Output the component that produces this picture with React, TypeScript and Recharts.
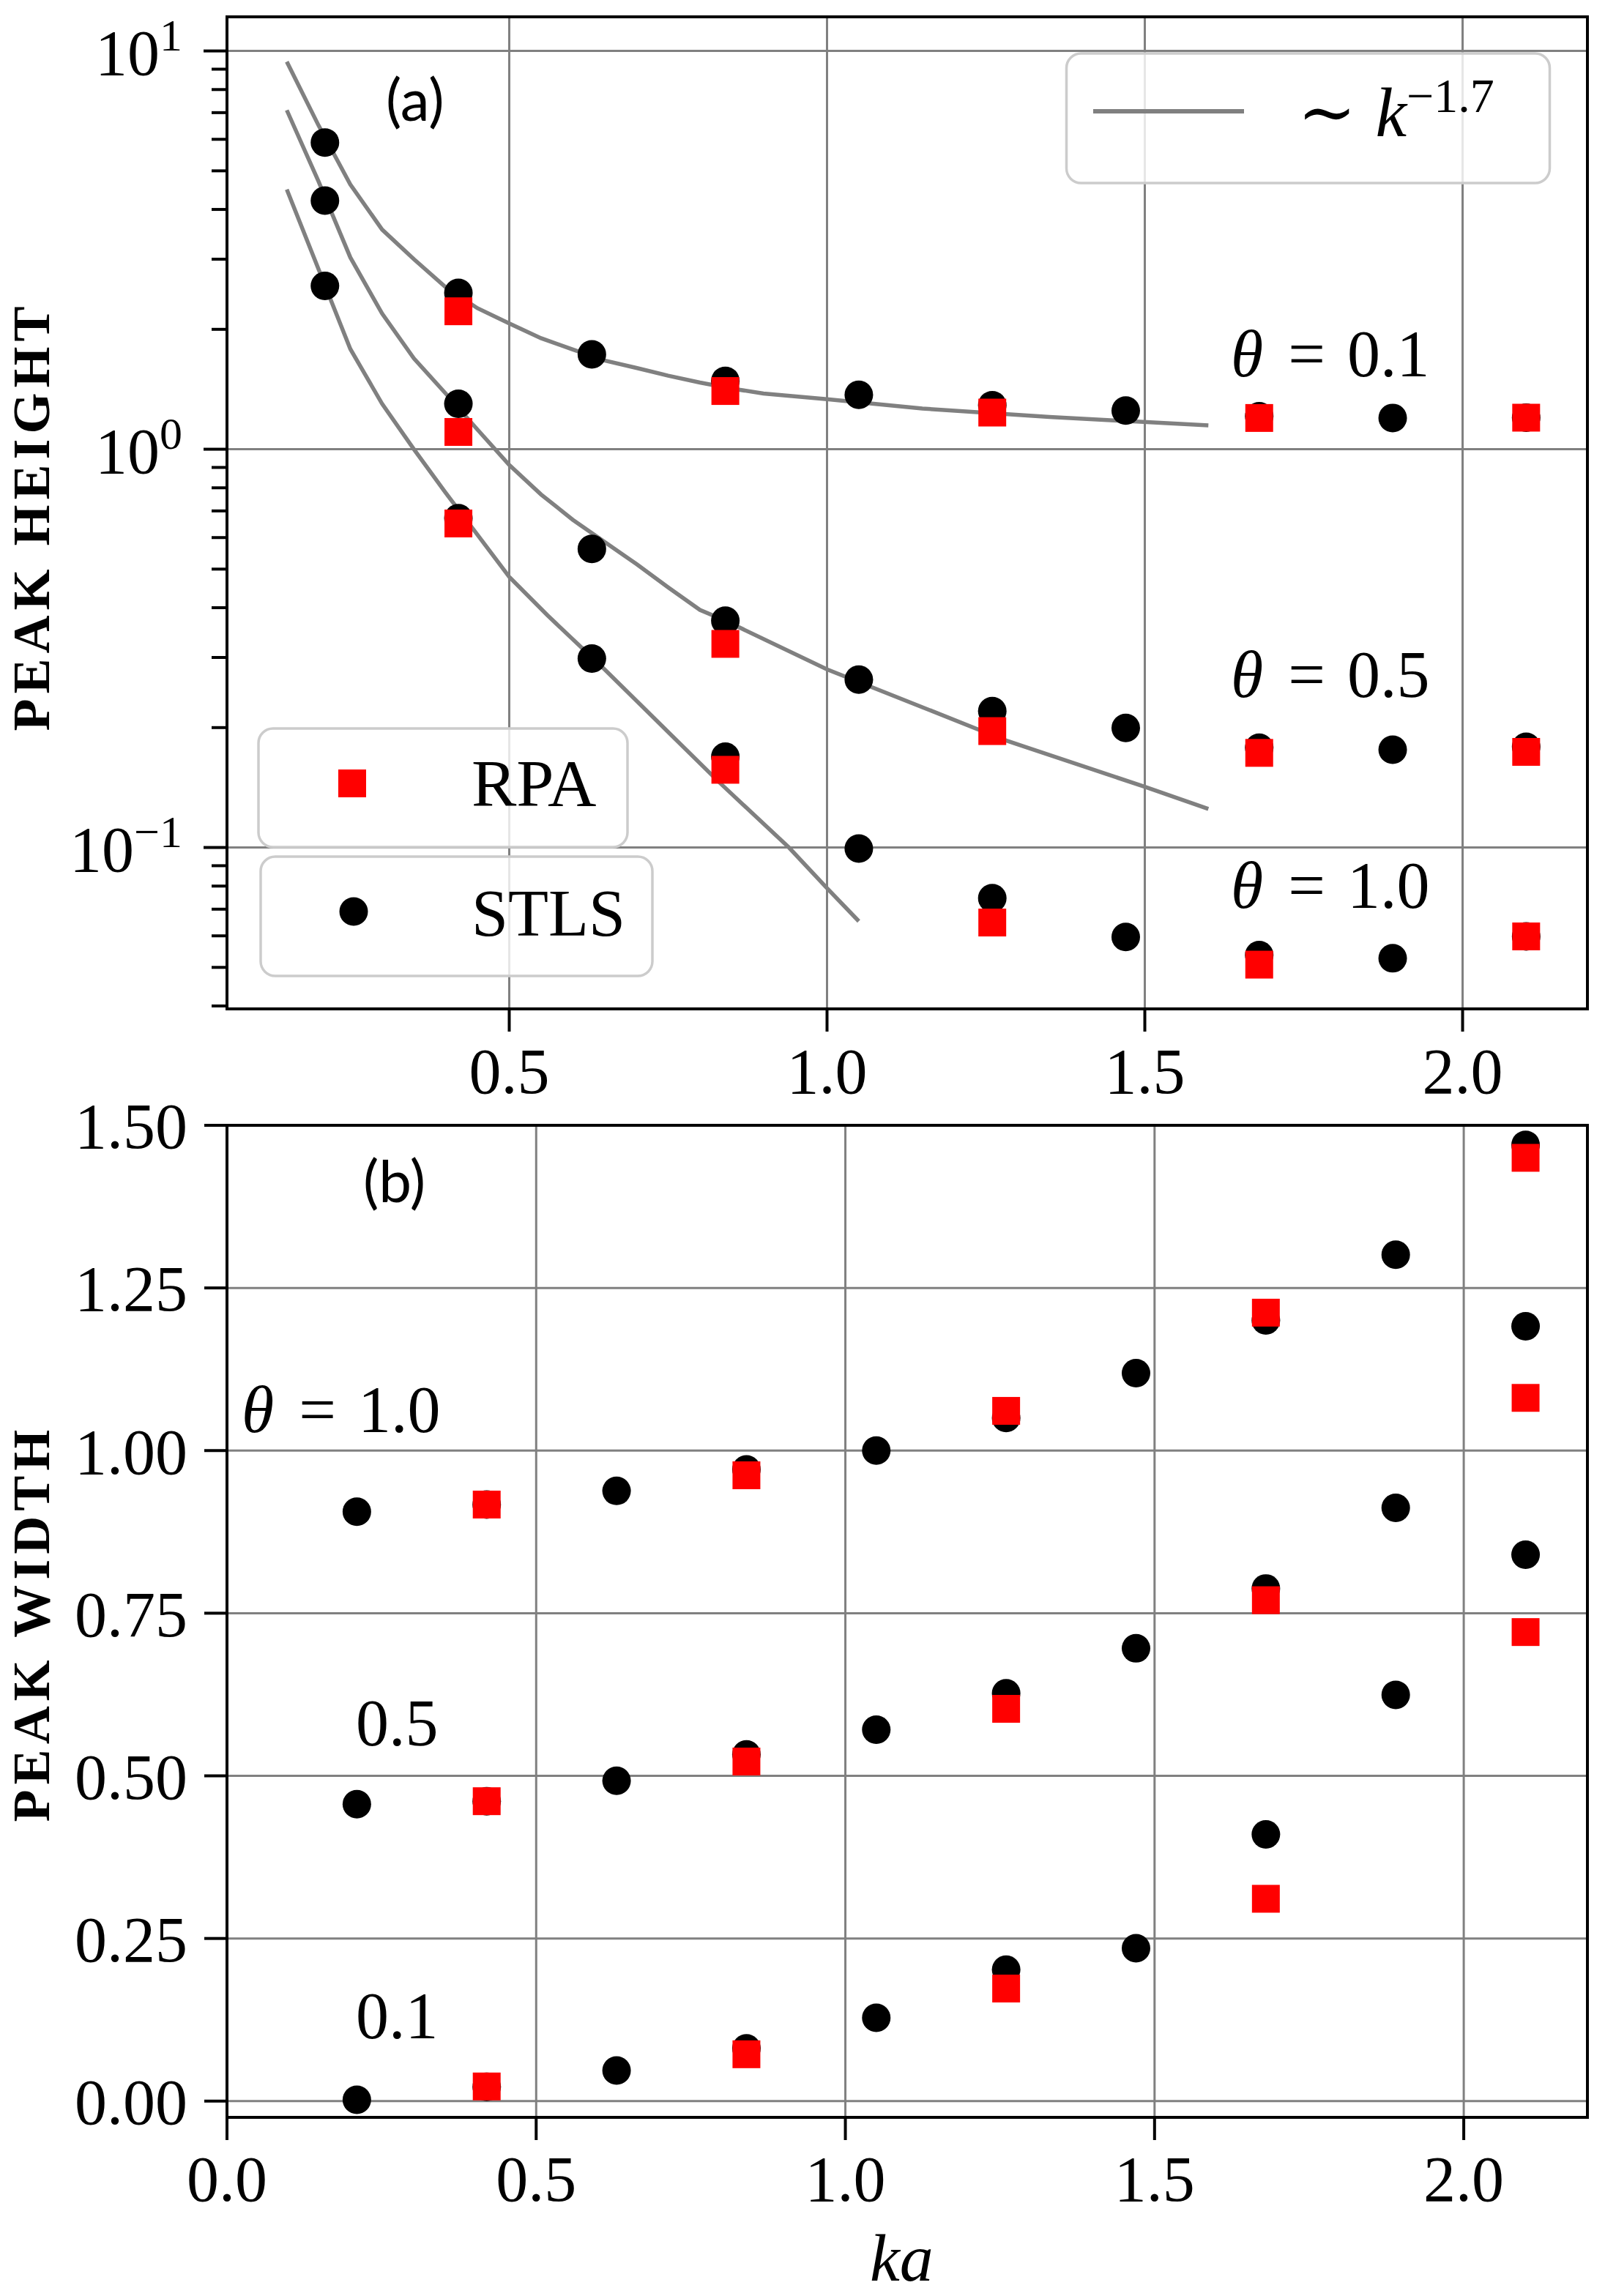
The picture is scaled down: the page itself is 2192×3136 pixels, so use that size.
import React from 'react';
import { ComposedChart, Scatter, Line, XAxis, YAxis, CartesianGrid, ReferenceArea } from 'recharts';

const SERIF = 'Liberation Serif, DejaVu Serif, serif';
const SANS = 'Lato, Open Sans, sans-serif';

// ---- data ----
const kaAll = [0.21, 0.42, 0.63, 0.84, 1.05, 1.26, 1.47, 1.68, 1.89, 2.1];
const kaRpa = [0.42, 0.84, 1.26, 1.68, 2.1];

// Panel (a): peak height
const heightStls01 = [5.89, 2.47, 1.73, 1.485, 1.37, 1.29, 1.25, 1.21, 1.198, 1.2];
const heightRpa01 = [2.22, 1.4, 1.236, 1.198, 1.2];
const heightStls05 = [4.21, 1.3, 0.562, 0.371, 0.264, 0.22, 0.1996, 0.178, 0.176, 0.179];
const heightRpa05 = [1.105, 0.3245, 0.196, 0.1728, 0.1738];
const heightStls10 = [2.57, 0.671, 0.298, 0.169, 0.0994, 0.0746, 0.0596, 0.0537, 0.0527, 0.0598];
const heightRpa10 = [0.651, 0.1567, 0.0648, 0.0508, 0.0598];

// ~k^-1.7 guide curves
const fitKa01 = [0.15, 0.2, 0.25, 0.3, 0.35, 0.4, 0.45, 0.5, 0.55, 0.6, 0.65, 0.7, 0.75, 0.8, 0.85, 0.9, 1.0, 1.15, 1.35, 1.6];
const fitH01 = [9.4, 6.5, 4.62, 3.56, 3.0, 2.55, 2.26, 2.07, 1.9, 1.78, 1.67, 1.6, 1.53, 1.47, 1.42, 1.38, 1.335, 1.265, 1.205, 1.148];
const fitKa05 = [0.15, 0.2, 0.25, 0.3, 0.35, 0.4, 0.45, 0.5, 0.55, 0.6, 0.7, 0.75, 0.8, 0.84, 1.0, 1.15, 1.28, 1.5, 1.6];
const fitH05 = [7.1, 4.7, 3.03, 2.19, 1.69, 1.38, 1.12, 0.913, 0.77, 0.665, 0.515, 0.45, 0.395, 0.371, 0.28, 0.225, 0.186, 0.142, 0.125];
const fitKa10 = [0.15, 0.2, 0.25, 0.3, 0.35, 0.4, 0.45, 0.5, 0.56, 0.65, 0.83, 0.94, 1.0, 1.05];
const fitH10 = [4.49, 2.83, 1.785, 1.3, 1.0, 0.777, 0.61, 0.478, 0.383, 0.28, 0.146, 0.1, 0.079, 0.0653];

// Panel (b): peak width
const widthStls10 = [0.906, 0.917, 0.938, 0.971, 1.0, 1.05, 1.119, 1.2, 1.301, 1.47];
const widthRpa10 = [0.917, 0.962, 1.061, 1.212, 1.45];
const widthStls05 = [0.4565, 0.461, 0.4925, 0.533, 0.571, 0.627, 0.696, 0.788, 0.912, 1.191];
const widthRpa05 = [0.461, 0.522, 0.603, 0.77, 1.081];
const widthStls01 = [0.002, 0.022, 0.047, 0.081, 0.128, 0.202, 0.235, 0.41, 0.6245, 0.84];
const widthRpa01 = [0.0225, 0.072, 0.173, 0.311, 0.721];

// ticks
const xTicksA = [0.5, 1, 1.5, 2];
const yMajorA = [0.1, 1, 10];
const yMinorA = [0.04, 0.05, 0.06, 0.07, 0.08, 0.09, 0.2, 0.3, 0.4, 0.5, 0.6, 0.7, 0.8, 0.9, 2, 3, 4, 5, 6, 7, 8, 9];
const yTicksA = [...yMinorA, ...yMajorA].sort((a, b) => a - b);
const xTicksB = [0, 0.5, 1, 1.5, 2];
const yTicksB = [0, 0.25, 0.5, 0.75, 1, 1.25, 1.5];

const domXA: [number, number] = [0.0559, 2.1964];
const domYA: [number, number] = [0.03933, 12.18];
const domXB: [number, number] = [0, 2.2];
const domYB: [number, number] = [-0.025, 1.5];

const pts = (xs: number[], ys: number[]) => xs.map((x, i) => ({ x, y: ys[i] }));

const circleShape = (p: any) => <circle cx={p.cx} cy={p.cy} r={19.5} fill="#000" />;
const squareShape = (p: any) => <rect x={p.cx - 19} y={p.cy - 19} width={38} height={38} fill="#ff0000" />;

function LogTick(props: any) {
  const { x, y, payload } = props;
  const v = payload.value;
  const major = yMajorA.find((m) => Math.abs(m - v) / m < 1e-6);
  const len = major !== undefined ? 32 : 21;
  const exp = major !== undefined ? Math.round(Math.log10(major)) : 0;
  return (
    <g>
      <line x1={x} x2={x - len} y1={y} y2={y} stroke="#000" strokeWidth={4} />
      {major !== undefined && (
        <text x={x - 61} y={y + 32} textAnchor="end" style={{ fontFamily: SERIF }} fontSize={88} fill="#000">
          <tspan>10</tspan>
          <tspan dy={-33} fontSize={62}>{exp < 0 ? '\u2212' + Math.abs(exp) : String(exp)}</tspan>
        </text>
      )}
    </g>
  );
}

const axisLineStyle = { stroke: '#000', strokeWidth: 4 };
const tickStyle = { fill: '#000', fontSize: 88, fontFamily: SERIF, style: { fontFamily: SERIF } };

function ThetaLabel({ x, y, value, withTheta = true }: { x: number; y: number; value: string; withTheta?: boolean }) {
  if (!withTheta) {
    return (
      <text x={x} y={y} style={{ fontFamily: SERIF }} fontSize={90} fill="#000">{value}</text>
    );
  }
  return (
    <text x={x} y={y} style={{ fontFamily: SERIF }} fontSize={90} fill="#000">
      <tspan fontStyle="italic">θ</tspan>
      <tspan dx={34}>=</tspan>
      <tspan dx={30}>{value}</tspan>
    </text>
  );
}

export default function App() {
  return (
    <div style={{ position: 'absolute', left: 0, top: 0, width: 2192, height: 3136, background: '#fff', fontFamily: SERIF }}>
      <div style={{ position: 'absolute', left: 0, top: 0 }}>
        <ComposedChart width={2192} height={1530} margin={{ top: 23, right: 24, bottom: 0, left: 0 }} style={{ fontFamily: SERIF }}>
          <CartesianGrid stroke="#808080" strokeWidth={3} horizontalValues={yMajorA} verticalValues={xTicksA} />
          <XAxis
            type="number"
            dataKey="x"
            domain={domXA}
            allowDataOverflow
            ticks={xTicksA}
            interval={0}
            height={152}
            tickSize={31}
            tickMargin={22}
            axisLine={axisLineStyle}
            tickLine={axisLineStyle}
            tick={tickStyle}
            tickFormatter={(v: number) => v.toFixed(1)}
          />
          <YAxis
            type="number"
            dataKey="y"
            scale="log"
            domain={domYA}
            allowDataOverflow
            ticks={yTicksA}
            interval={0}
            width={310}
            tickSize={0}
            tickMargin={0}
            tickLine={false}
            axisLine={axisLineStyle}
            tick={<LogTick />}
          />
          <ReferenceArea x1={domXA[0]} x2={domXA[1]} y1={domYA[0]} y2={domYA[1]} fill="none" stroke="#000" strokeWidth={4} ifOverflow="visible" />
          <Line data={pts(fitKa01, fitH01)} dataKey="y" type="linear" stroke="#808080" strokeWidth={5.5} dot={false} isAnimationActive={false} />
          <Line data={pts(fitKa05, fitH05)} dataKey="y" type="linear" stroke="#808080" strokeWidth={5.5} dot={false} isAnimationActive={false} />
          <Line data={pts(fitKa10, fitH10)} dataKey="y" type="linear" stroke="#808080" strokeWidth={5.5} dot={false} isAnimationActive={false} />
          <Scatter data={pts(kaAll, heightStls01)} shape={circleShape} isAnimationActive={false} />
          <Scatter data={pts(kaAll, heightStls05)} shape={circleShape} isAnimationActive={false} />
          <Scatter data={pts(kaAll, heightStls10)} shape={circleShape} isAnimationActive={false} />
          <Scatter data={pts(kaRpa, heightRpa01)} shape={squareShape} isAnimationActive={false} />
          <Scatter data={pts(kaRpa, heightRpa05)} shape={squareShape} isAnimationActive={false} />
          <Scatter data={pts(kaRpa, heightRpa10)} shape={squareShape} isAnimationActive={false} />
        </ComposedChart>
      </div>

      <div style={{ position: 'absolute', left: 0, top: 1440 }}>
        <ComposedChart width={2192} height={1696} margin={{ top: 97, right: 24, bottom: 0, left: 0 }} style={{ fontFamily: SERIF }}>
          <CartesianGrid stroke="#808080" strokeWidth={3} horizontalValues={yTicksB} verticalValues={xTicksB} />
          <XAxis
            type="number"
            dataKey="x"
            domain={domXB}
            allowDataOverflow
            ticks={xTicksB}
            interval={0}
            height={244}
            tickSize={31}
            tickMargin={21}
            axisLine={axisLineStyle}
            tickLine={axisLineStyle}
            tick={tickStyle}
            tickFormatter={(v: number) => v.toFixed(1)}
          />
          <YAxis
            type="number"
            dataKey="y"
            domain={domYB}
            allowDataOverflow
            ticks={yTicksB}
            interval={0}
            width={310}
            tickSize={31}
            tickMargin={23}
            axisLine={axisLineStyle}
            tickLine={axisLineStyle}
            tick={tickStyle}
            tickFormatter={(v: number) => v.toFixed(2)}
          />
          <ReferenceArea x1={domXB[0]} x2={domXB[1]} y1={domYB[0]} y2={domYB[1]} fill="none" stroke="#000" strokeWidth={4} ifOverflow="visible" />
          <Scatter data={pts(kaAll, widthStls10)} shape={circleShape} isAnimationActive={false} />
          <Scatter data={pts(kaAll, widthStls05)} shape={circleShape} isAnimationActive={false} />
          <Scatter data={pts(kaAll, widthStls01)} shape={circleShape} isAnimationActive={false} />
          <Scatter data={pts(kaRpa, widthRpa10)} shape={squareShape} isAnimationActive={false} />
          <Scatter data={pts(kaRpa, widthRpa05)} shape={squareShape} isAnimationActive={false} />
          <Scatter data={pts(kaRpa, widthRpa01)} shape={squareShape} isAnimationActive={false} />
        </ComposedChart>
      </div>

      <svg width={2192} height={3136} style={{ position: 'absolute', left: 0, top: 0, pointerEvents: 'none', fontFamily: SERIF }}>
        {/* panel tags */}
        <text x={527} y={165} style={{ fontFamily: SANS }} fontSize={80} fill="#000">(a)</text>
        <text x={496} y={1642} style={{ fontFamily: SANS }} fontSize={80} fill="#000">(b)</text>

        {/* theta annotations, panel (a) */}
        <ThetaLabel x={1681} y={514} value="0.1" />
        <ThetaLabel x={1681} y={952} value="0.5" />
        <ThetaLabel x={1681} y={1240} value="1.0" />

        {/* theta annotations, panel (b) */}
        <ThetaLabel x={330} y={1956} value="1.0" />
        <ThetaLabel x={486} y={2384} value="0.5" withTheta={false} />
        <ThetaLabel x={486} y={2784} value="0.1" withTheta={false} />

        {/* legend: guide line */}
        <rect x={1456.5} y={73} width={660} height={177} rx={20} ry={20} fill="rgba(255,255,255,0.8)" stroke="#cccccc" strokeWidth={3.5} />
        <line x1={1493} x2={1699} y1={152} y2={152} stroke="#808080" strokeWidth={6} />
        <text x={1772} y={186} style={{ fontFamily: SERIF }} fontSize={96} fill="#000">
          <tspan>∼</tspan>
          <tspan dx={26} fontStyle="italic">k</tspan>
          <tspan dy={-33} fontSize={66}>−1.7</tspan>
        </text>

        {/* legend: RPA */}
        <rect x={353} y={995} width={504} height={162} rx={20} ry={20} fill="rgba(255,255,255,0.8)" stroke="#cccccc" strokeWidth={3.5} />
        <rect x={462} y={1051} width={38} height={38} fill="#ff0000" />
        <text x={644} y={1101} style={{ fontFamily: SERIF }} fontSize={92} fill="#000">RPA</text>

        {/* legend: STLS */}
        <rect x={356} y={1170} width={535} height={163} rx={20} ry={20} fill="rgba(255,255,255,0.8)" stroke="#cccccc" strokeWidth={3.5} />
        <circle cx={483} cy={1245} r={19.5} fill="#000" />
        <text x={644} y={1278} style={{ fontFamily: SERIF }} fontSize={90} fill="#000">STLS</text>

        {/* axis titles */}
        <text transform="translate(67,705) rotate(-90)" textAnchor="middle" style={{ fontFamily: SERIF }} fontWeight="bold" fontSize={72} letterSpacing={7} fill="#000">PEAK HEIGHT</text>
        <text transform="translate(67,2217) rotate(-90)" textAnchor="middle" style={{ fontFamily: SERIF }} fontWeight="bold" fontSize={72} letterSpacing={7} fill="#000">PEAK WIDTH</text>
        <text x={1188} y={3115} style={{ fontFamily: SERIF }} fontStyle="italic" fontSize={92} fill="#000">ka</text>
      </svg>
    </div>
  );
}
